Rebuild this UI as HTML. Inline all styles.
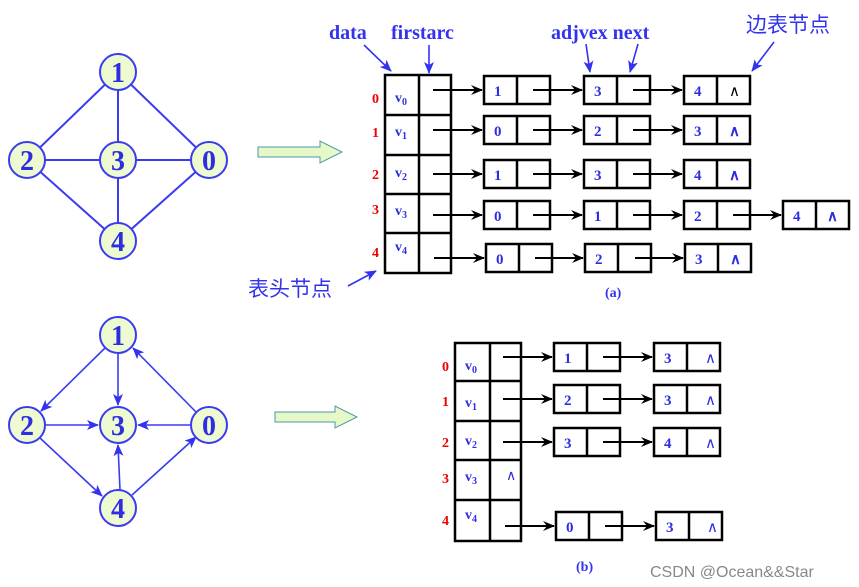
<!DOCTYPE html>
<html><head><meta charset="utf-8"><style>body{margin:0;background:#fff}svg{display:block}</style></head><body>
<svg width="859" height="587" viewBox="0 0 859 587" xmlns="http://www.w3.org/2000/svg" font-family="Liberation Serif, serif" font-weight="bold">
<defs>
<marker id="ah" markerWidth="12" markerHeight="10" refX="11" refY="5" orient="auto" markerUnits="userSpaceOnUse"><path d="M0,0 L12,5 L0,10 L4,5 Z" fill="#000"/></marker>
<marker id="bh" markerWidth="12" markerHeight="10" refX="11" refY="5" orient="auto" markerUnits="userSpaceOnUse"><path d="M0,0 L12,5 L0,10 L3,5 Z" fill="#3333ee"/></marker>
</defs>
<!-- top graph -->
<g stroke="#3b3bf0" stroke-width="2">
<line x1="118" y1="72" x2="27" y2="160"/><line x1="118" y1="72" x2="209" y2="160"/><line x1="118" y1="72" x2="118" y2="160"/>
<line x1="27" y1="160" x2="209" y2="160"/><line x1="118" y1="160" x2="118" y2="241"/>
<line x1="27" y1="160" x2="118" y2="241"/><line x1="209" y1="160" x2="118" y2="241"/>
</g>
<g fill="#eefad0" stroke="#3b3bf0" stroke-width="2">
<circle cx="118" cy="72" r="18"/><circle cx="27" cy="160" r="18"/><circle cx="118" cy="160" r="18"/><circle cx="209" cy="160" r="18"/><circle cx="118" cy="241" r="18"/>
</g>
<g fill="#2e2ee0" font-size="28" text-anchor="middle">
<text x="118" y="82">1</text><text x="27" y="170">2</text><text x="118" y="170">3</text><text x="209" y="170">0</text><text x="118" y="251">4</text>
</g>
<!-- bottom graph -->
<g stroke="#3b3bf0" stroke-width="1.6" marker-end="url(#bh)">
<line x1="118" y1="353" x2="118" y2="405"/>
<line x1="196" y1="412" x2="133" y2="348"/>
<line x1="105" y1="348" x2="41" y2="411"/>
<line x1="45" y1="425" x2="98" y2="425"/>
<line x1="191" y1="425" x2="138" y2="425"/>
<line x1="40" y1="438" x2="102" y2="496"/>
<line x1="120" y1="490" x2="118" y2="445"/>
<line x1="132" y1="495" x2="196" y2="437"/>
</g>
<g fill="#eefad0" stroke="#3b3bf0" stroke-width="2">
<circle cx="118" cy="335" r="18"/><circle cx="27" cy="425" r="18"/><circle cx="118" cy="425" r="18"/><circle cx="209" cy="425" r="18"/><circle cx="118" cy="508" r="18"/>
</g>
<g fill="#2e2ee0" font-size="28" text-anchor="middle">
<text x="118" y="345">1</text><text x="27" y="435">2</text><text x="118" y="435">3</text><text x="209" y="435">0</text><text x="118" y="518">4</text>
</g>
<!-- big arrows -->
<path d="M258,147 H320 V141 L342,152 L320,163 V157 H258 Z" fill="#e6f7c8" stroke="#4a9aa8" stroke-width="1"/>
<path d="M275,412 H335 V406 L357,417 L335,428 V422 H275 Z" fill="#e6f7c8" stroke="#4a9aa8" stroke-width="1"/>
<!-- labels top -->
<g fill="#3333ee" font-size="20">
<text x="329" y="39">data</text><text x="391" y="39">firstarc</text><text x="551" y="39">adjvex next</text>
<text x="605" y="297" font-size="14">(a)</text>
<text x="576" y="571" font-size="14">(b)</text>
</g>
<g fill="#3333ee" font-family="Noto Sans CJK SC, sans-serif" font-weight="normal" font-size="21">
<text x="746" y="32">边表节点</text><text x="248" y="296">表头节点</text>
</g>
<g stroke="#3333ee" stroke-width="1.6" marker-end="url(#bh)">
<line x1="364" y1="45" x2="391" y2="71"/><line x1="429" y1="45" x2="429" y2="73"/>
<line x1="586" y1="44" x2="590" y2="72"/><line x1="638" y1="44" x2="630" y2="72"/>
<line x1="774" y1="42" x2="752" y2="71"/><line x1="348" y1="286" x2="376" y2="271"/>
</g>
<!-- top table -->
<g fill="#fff" stroke="#000" stroke-width="2.5">
<rect x="385" y="75" width="66" height="198"/>
</g>
<g stroke="#000" stroke-width="2.5">
<line x1="419" y1="75" x2="419" y2="273"/>
<line x1="385" y1="115" x2="451" y2="115"/><line x1="385" y1="155" x2="451" y2="155"/><line x1="385" y1="194" x2="451" y2="194"/><line x1="385" y1="233" x2="451" y2="233"/>
</g>
<g fill="#e00" font-size="14"><text x="372" y="103">0</text><text x="372" y="137">1</text><text x="372" y="179">2</text><text x="372" y="214">3</text><text x="372" y="257">4</text></g>
<g fill="#2e2ee0" font-size="14">
<text x="395" y="102">v<tspan font-size="10" dy="3">0</tspan></text>
<text x="395" y="136">v<tspan font-size="10" dy="3">1</tspan></text>
<text x="395" y="177">v<tspan font-size="10" dy="3">2</tspan></text>
<text x="395" y="215">v<tspan font-size="10" dy="3">3</tspan></text>
<text x="395" y="251">v<tspan font-size="10" dy="3">4</tspan></text>
</g>
<!-- node boxes top -->
<g fill="#fff" stroke="#000" stroke-width="2.5">
<rect x="484" y="76" width="66" height="28"/><rect x="584" y="76" width="66" height="28"/><rect x="684" y="76" width="66" height="28"/>
<rect x="484" y="116" width="66" height="28"/><rect x="584" y="116" width="66" height="28"/><rect x="684" y="116" width="66" height="28"/>
<rect x="484" y="160" width="66" height="28"/><rect x="584" y="160" width="66" height="28"/><rect x="684" y="160" width="66" height="28"/>
<rect x="484" y="201" width="66" height="28"/><rect x="584" y="201" width="66" height="28"/><rect x="684" y="201" width="66" height="28"/><rect x="783" y="201" width="66" height="28"/>
<rect x="486" y="244" width="66" height="28"/><rect x="585" y="244" width="66" height="28"/><rect x="685" y="244" width="66" height="28"/>
</g>
<g stroke="#000" stroke-width="2.5">
<line x1="517" y1="76" x2="517" y2="104"/><line x1="617" y1="76" x2="617" y2="104"/><line x1="717" y1="76" x2="717" y2="104"/>
<line x1="517" y1="116" x2="517" y2="144"/><line x1="617" y1="116" x2="617" y2="144"/><line x1="717" y1="116" x2="717" y2="144"/>
<line x1="517" y1="160" x2="517" y2="188"/><line x1="617" y1="160" x2="617" y2="188"/><line x1="717" y1="160" x2="717" y2="188"/>
<line x1="517" y1="201" x2="517" y2="229"/><line x1="617" y1="201" x2="617" y2="229"/><line x1="717" y1="201" x2="717" y2="229"/><line x1="816" y1="201" x2="816" y2="229"/>
<line x1="519" y1="244" x2="519" y2="272"/><line x1="618" y1="244" x2="618" y2="272"/><line x1="718" y1="244" x2="718" y2="272"/>
</g>
<g stroke="#000" stroke-width="2" marker-end="url(#ah)">
<line x1="433" y1="90" x2="482" y2="90"/><line x1="533" y1="90" x2="582" y2="90"/><line x1="633" y1="90" x2="682" y2="90"/>
<line x1="433" y1="130" x2="482" y2="130"/><line x1="533" y1="130" x2="582" y2="130"/><line x1="633" y1="130" x2="682" y2="130"/>
<line x1="433" y1="174" x2="482" y2="174"/><line x1="533" y1="174" x2="582" y2="174"/><line x1="633" y1="174" x2="682" y2="174"/>
<line x1="433" y1="215" x2="482" y2="215"/><line x1="533" y1="215" x2="582" y2="215"/><line x1="633" y1="215" x2="682" y2="215"/><line x1="733" y1="215" x2="781" y2="215"/>
<line x1="434" y1="258" x2="484" y2="258"/><line x1="535" y1="258" x2="583" y2="258"/><line x1="635" y1="258" x2="683" y2="258"/>
</g>
<g fill="#2e2ee0" font-size="15">
<text x="494" y="96">1</text><text x="594" y="96">3</text><text x="694" y="96">4</text><text x="729" y="96" fill="#000" font-weight="normal">∧</text>
<text x="494" y="136">0</text><text x="594" y="136">2</text><text x="694" y="136">3</text><text x="729" y="136">∧</text>
<text x="494" y="180">1</text><text x="594" y="180">3</text><text x="694" y="180">4</text><text x="729" y="180">∧</text>
<text x="494" y="221">0</text><text x="594" y="221">1</text><text x="694" y="221">2</text><text x="793" y="221">4</text><text x="827" y="221">∧</text>
<text x="496" y="264">0</text><text x="595" y="264">2</text><text x="695" y="264">3</text><text x="730" y="264">∧</text>
</g>
<!-- bottom table -->
<rect x="455" y="343" width="66" height="198" fill="#fff" stroke="#000" stroke-width="2.5"/>
<g stroke="#000" stroke-width="2.5">
<line x1="490" y1="343" x2="490" y2="541"/>
<line x1="455" y1="381" x2="521" y2="381"/><line x1="455" y1="421" x2="521" y2="421"/><line x1="455" y1="460" x2="521" y2="460"/><line x1="455" y1="500" x2="521" y2="500"/>
</g>
<g fill="#e00" font-size="14"><text x="442" y="371">0</text><text x="442" y="406">1</text><text x="442" y="447">2</text><text x="442" y="483">3</text><text x="442" y="525">4</text></g>
<g fill="#2e2ee0" font-size="14">
<text x="465" y="370">v<tspan font-size="10" dy="3">0</tspan></text>
<text x="465" y="407">v<tspan font-size="10" dy="3">1</tspan></text>
<text x="465" y="445">v<tspan font-size="10" dy="3">2</tspan></text>
<text x="465" y="481">v<tspan font-size="10" dy="3">3</tspan></text>
<text x="465" y="519">v<tspan font-size="10" dy="3">4</tspan></text>
<text x="506" y="480" font-weight="normal">∧</text>
</g>
<g fill="#fff" stroke="#000" stroke-width="2.5">
<rect x="554" y="343" width="66" height="28"/><rect x="654" y="343" width="66" height="28"/>
<rect x="554" y="385" width="66" height="28"/><rect x="654" y="385" width="66" height="28"/>
<rect x="554" y="428" width="66" height="28"/><rect x="654" y="428" width="66" height="28"/>
<rect x="556" y="512" width="66" height="28"/><rect x="656" y="512" width="66" height="28"/>
</g>
<g stroke="#000" stroke-width="2.5">
<line x1="587" y1="343" x2="587" y2="371"/><line x1="687" y1="343" x2="687" y2="371"/>
<line x1="587" y1="385" x2="587" y2="413"/><line x1="687" y1="385" x2="687" y2="413"/>
<line x1="587" y1="428" x2="587" y2="456"/><line x1="687" y1="428" x2="687" y2="456"/>
<line x1="589" y1="512" x2="589" y2="540"/><line x1="689" y1="512" x2="689" y2="540"/>
</g>
<g stroke="#000" stroke-width="2" marker-end="url(#ah)">
<line x1="503" y1="357" x2="552" y2="357"/><line x1="603" y1="357" x2="652" y2="357"/>
<line x1="503" y1="399" x2="552" y2="399"/><line x1="603" y1="399" x2="652" y2="399"/>
<line x1="503" y1="442" x2="552" y2="442"/><line x1="603" y1="442" x2="652" y2="442"/>
<line x1="505" y1="526" x2="554" y2="526"/><line x1="605" y1="526" x2="654" y2="526"/>
</g>
<g fill="#2e2ee0" font-size="15">
<text x="564" y="363">1</text><text x="664" y="363">3</text><text x="705" y="363" font-weight="normal">∧</text>
<text x="564" y="405">2</text><text x="664" y="405">3</text><text x="705" y="405" font-weight="normal">∧</text>
<text x="564" y="448">3</text><text x="664" y="448">4</text><text x="705" y="448" font-weight="normal">∧</text>
<text x="566" y="532">0</text><text x="666" y="532">3</text><text x="707" y="532" font-weight="normal">∧</text>
</g>
<text x="650" y="577" font-family="Liberation Sans, sans-serif" font-weight="normal" font-size="16" fill="#888">CSDN @Ocean&amp;&amp;Star</text>
</svg>
</body></html>
